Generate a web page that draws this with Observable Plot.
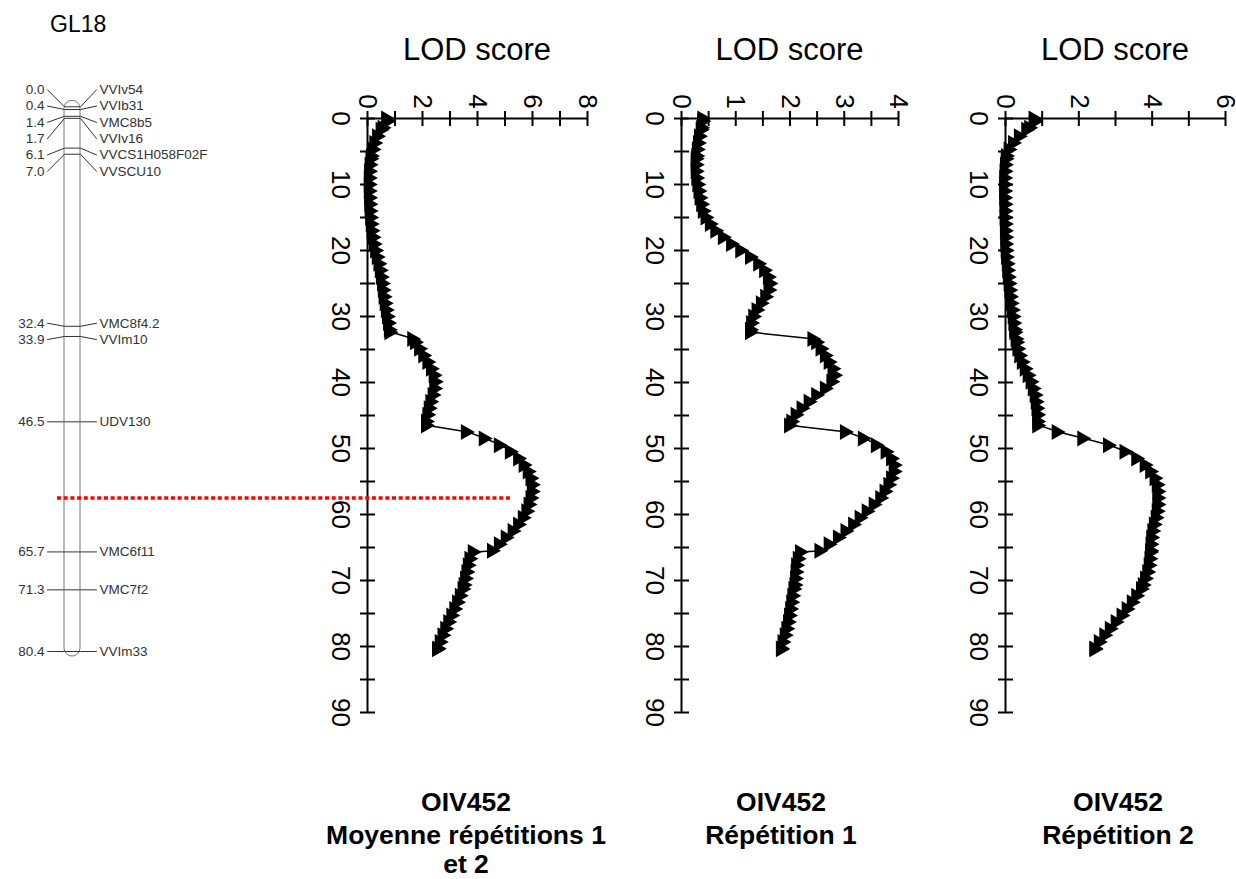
<!DOCTYPE html>
<html><head><meta charset="utf-8">
<script src="https://cdn.jsdelivr.net/npm/d3@7"></script>
<script src="https://cdn.jsdelivr.net/npm/@observablehq/plot@0.6"></script>
<style>
body{margin:0;background:#fff;}
#fig{position:relative;width:1236px;height:879px;overflow:hidden;font-family:"Liberation Sans",Arial,sans-serif;color:#000;}
.title{position:absolute;font-size:31px;line-height:34px;text-align:center;width:260px;white-space:nowrap;}
.cap{position:absolute;font-weight:bold;font-size:26.5px;line-height:22px;text-align:center;width:360px;white-space:nowrap;}
.gl{position:absolute;font-size:23px;line-height:24px;}
</style></head><body><div id="fig"></div>
<script>
// ---- data ----
const positions = [0.0,0.4,1.4,1.7,2.7,3.7,4.7,5.7,6.1,7.0,
  8,9,10,11,12,13,14,15,16,17,18,19,20,21,22,23,24,25,26,27,28,29,30,31,32,
  32.4,33.4,33.9,
  34.9,35.9,36.9,37.9,38.9,39.9,40.9,41.9,42.9,43.9,44.9,45.9,
  46.5,
  47.5,48.5,49.5,50.5,51.5,52.5,53.5,54.5,55.5,56.5,57.5,58.5,59.5,60.5,61.5,62.5,63.5,64.5,65.5,
  65.7,
  66.7,67.7,68.7,69.7,70.7,
  71.3,
  72.3,73.3,74.3,75.3,76.3,77.3,78.3,79.3,80.3,
  80.4];
const lodMean = [0.75,0.78,0.62,0.55,0.42,0.32,0.26,0.2,0.18,0.15,
  0.13,0.12,0.12,0.12,0.13,0.14,0.15,0.17,0.19,0.22,0.26,0.3,0.35,0.41,0.47,0.52,0.56,0.6,0.63,0.66,0.7,0.74,0.78,0.82,0.85,
  0.87,1.7,1.8,
  1.95,2.1,2.25,2.38,2.48,2.52,2.5,2.44,2.36,2.3,2.25,2.2,
  2.2,
  3.65,4.3,4.85,5.25,5.55,5.75,5.9,6.0,6.05,6.05,6.0,5.93,5.85,5.72,5.55,5.35,5.1,4.85,4.6,
  3.9,
  3.78,3.72,3.67,3.62,3.57,
  3.53,
  3.43,3.33,3.23,3.12,3.01,2.9,2.8,2.7,2.62,
  2.6];
const lodRep1 = [0.42,0.42,0.4,0.39,0.36,0.34,0.32,0.31,0.3,0.3,
  0.3,0.31,0.33,0.35,0.37,0.4,0.43,0.48,0.56,0.66,0.8,0.95,1.12,1.3,1.45,1.56,1.63,1.66,1.64,1.58,1.5,1.42,1.36,1.32,1.3,
  1.3,2.45,2.52,
  2.6,2.68,2.75,2.82,2.85,2.8,2.68,2.52,2.38,2.25,2.14,2.06,
  2.02,
  3.05,3.38,3.62,3.8,3.9,3.95,3.95,3.9,3.85,3.78,3.7,3.58,3.45,3.32,3.2,3.06,2.92,2.75,2.58,
  2.22,
  2.18,2.15,2.14,2.13,2.12,
  2.1,
  2.08,2.06,2.04,2.02,2.0,1.97,1.94,1.9,1.87,
  1.87];
const lodRep2 = [0.82,0.85,0.7,0.62,0.42,0.26,0.14,0.07,0.06,0.04,
  0.03,0.02,0.02,0.02,0.02,0.03,0.03,0.03,0.04,0.04,0.05,0.05,0.06,0.07,0.09,0.1,0.12,0.14,0.16,0.18,0.2,0.23,0.25,0.27,0.29,
  0.3,0.33,0.35,
  0.38,0.43,0.5,0.58,0.66,0.74,0.8,0.85,0.88,0.9,0.92,0.92,
  0.92,
  1.45,2.15,2.85,3.3,3.62,3.85,4.0,4.12,4.18,4.2,4.2,4.2,4.18,4.15,4.1,4.06,4.03,4.01,4.0,
  4.0,
  3.98,3.96,3.92,3.86,3.8,
  3.75,
  3.62,3.5,3.36,3.22,3.06,2.9,2.75,2.6,2.48,
  2.48];
const markerNames = ["VVIv54","VVIb31","VMC8b5","VVIv16","VVCS1H058F02F","VVSCU10","VMC8f4.2","VVIm10","UDV130","VMC6f11","VMC7f2","VVIm33"];
const markerPos = [0.0,0.4,1.4,1.7,6.1,7.0,32.4,33.9,46.5,65.7,71.3,80.4];
const posTicks = [0,5,10,15,20,25,30,35,40,45,50,55,60,65,70,75,80,85,90];
const posLabels = [0,10,20,30,40,50,60,70,80,90];
const lodTicks1 = [0,1,2,3,4,5,6,7,8], lodLabels1 = [0,2,4,6,8];
const lodTicks2 = [0,0.5,1,1.5,2,2.5,3,3.5,4], lodLabels2 = [0,1,2,3,4];
const lodTicks3 = [0,1,2,3,4,5,6], lodLabels3 = [0,2,4,6];
const qtlPosition = [57.5];
const groupName = "GL18";
const axisTitle = "LOD score";
const captions = [["OIV452","Moyenne répétitions 1","et 2"],["OIV452","Répétition 1"],["OIV452","Répétition 2"]];

// ---- layout ----
const FONT = "Liberation Sans, Arial, sans-serif";
const fig = document.getElementById("fig");
function place(node, left, top, w){
  const d = document.createElement("div");
  d.style.cssText = `position:absolute;left:${left}px;top:${top}px;width:${w}px;`;
  d.appendChild(node); fig.appendChild(d);
}
const triRight = {draw(ctx){ ctx.moveTo(-7,-8); ctx.lineTo(7,0); ctx.lineTo(-7,8); ctx.closePath(); }};
const hTick = {draw(ctx){ ctx.moveTo(-7.5,0); ctx.lineTo(7.5,0); }};
const vTick = {draw(ctx){ ctx.moveTo(0,-7.5); ctx.lineTo(0,7.5); }};

const Y0 = 118.3, YLEN = 594;
function panel(cfg){
  const mL = cfg.red ? 320 : 50, mR = 10, mT = 40, mB = 12;
  const data = positions.map((p,i)=>({pos:p, lod:cfg.lod[i]}));
  const marks = [
    Plot.ruleX([0], {stroke:"black", strokeWidth:2}),
    Plot.ruleY([0], {stroke:"black", strokeWidth:2}),
    Plot.dot(posTicks, {x:0, y:d=>d, symbol:hTick, stroke:"black", strokeWidth:2, fill:"none"}),
    Plot.dot(cfg.ticks, {x:d=>d, y:0, symbol:vTick, stroke:"black", strokeWidth:2, fill:"none"}),
    Plot.text(posLabels, {x:0, y:d=>d, text:d=>String(d), rotate:90, dx:-27, fontSize:26, fill:"black"}),
    Plot.text(cfg.labels, {x:d=>d, y:0, text:d=>String(d), rotate:90, dy:-17, fontSize:26, fill:"black"}),
    Plot.line(data, {x:"lod", y:"pos", stroke:"black", strokeWidth:1.5}),
    Plot.dot(data, {x:"lod", y:"pos", symbol:triRight, fill:"black", stroke:"none"})
  ];
  if (cfg.red) marks.push(Plot.ruleY(qtlPosition, {y:d=>d, stroke:"#f00", strokeWidth:3.5, strokeDasharray:"4 2.7", insetLeft:-310, insetRight:75}));
  const width = mL + cfg.w + mR, height = mT + YLEN + mB;
  const svg = Plot.plot({
    width, height, marginLeft:mL, marginRight:mR, marginTop:mT, marginBottom:mB,
    style:{background:"transparent", overflow:"visible", fontFamily:FONT},
    x:{domain:[0, cfg.xMax], axis:null},
    y:{domain:[0, 90], reverse:true, axis:null},
    marks
  });
  place(svg, cfg.x0 - mL, Y0 - mT, width);
  const t = document.createElement("div");
  t.className = "title"; t.textContent = axisTitle;
  t.style.left = (cfg.x0 + cfg.w/2 - 130) + "px"; t.style.top = "33px";
  fig.appendChild(t);
  const centers = [802, 835, 864];
  cfg.caption.forEach((line, i) => {
    const c = document.createElement("div");
    c.className = "cap"; c.textContent = line;
    c.style.left = (cfg.capX - 180) + "px"; c.style.top = (centers[i] - 11) + "px";
    fig.appendChild(c);
  });
}

// ---- linkage map ----
function spreadLabels(pos, gap){
  const layout = c => { const n = c.last - c.first + 1, mid = (c.lo + c.hi)/2; c.start = mid - (n-1)*gap/2; c.end = mid + (n-1)*gap/2; };
  let clusters = pos.map((p,i)=>{ const c = {first:i, last:i, lo:p, hi:p}; layout(c); return c; });
  let merged = true;
  while (merged){
    merged = false;
    for (let i = 1; i < clusters.length; i++){
      const a = clusters[i-1], b = clusters[i];
      if (b.start - a.end < gap - 1e-9){
        const c = {first:a.first, last:b.last, lo:a.lo, hi:b.hi}; layout(c);
        clusters.splice(i-1, 2, c); merged = true; break;
      }
    }
  }
  const out = [];
  clusters.forEach(c => { for (let i = c.first; i <= c.last; i++) out[i] = c.start + (i - c.first)*gap; });
  return out;
}
(function map(){
  const pxPerCM = 6.775, top = 106.3, W = 240, H = 700;
  const maxPos = d3.max(markerPos);
  const mB = H - top - maxPos*pxPerCM;
  const labelPos = spreadLabels(markerPos, 16.3/pxPerCM);
  const markers = markerNames.map((n,i)=>({name:n, pos:markerPos[i], label:labelPos[i]}));
  const L = {num:44, cl:47, bl:64, br:80, cr:96, name:99};
  const conn = markers.flatMap((m,i)=>[
    {k:i, x:L.cl, y:m.label},{k:i, x:L.bl, y:m.pos},{k:i, x:L.br, y:m.pos},{k:i, x:L.cr, y:m.label}]);
  const svg = Plot.plot({
    width:W, height:H, marginLeft:0, marginRight:0, marginTop:top, marginBottom:mB,
    style:{background:"transparent", overflow:"visible", fontFamily:FONT},
    x:{type:"identity", axis:null},
    y:{domain:[0, maxPos], reverse:true, axis:null},
    marks:[
      Plot.rect([0], {x1:L.bl, x2:L.br, y1:0, y2:maxPos, insetTop:-6, insetBottom:-5, rx:8, ry:8, fill:"none", stroke:"#777", strokeWidth:1}),
      Plot.line(conn, {x:"x", y:"y", z:"k", stroke:"#333", strokeWidth:1}),
      Plot.text(markers, {x:L.num, y:"label", text:d=>d.pos.toFixed(1), textAnchor:"end", fontSize:13.5, fill:"#333"}),
      Plot.text(markers, {x:L.name, y:"label", text:"name", textAnchor:"start", fontSize:13.5, fill:"#333"})
    ]
  });
  place(svg, 0, 0, W);
  const g = document.createElement("div");
  g.className = "gl"; g.textContent = groupName; g.style.left = "50px"; g.style.top = "12px";
  fig.appendChild(g);
})();

panel({lod:lodMean, xMax:8, ticks:lodTicks1, labels:lodLabels1, x0:367, w:220, capX:466, caption:captions[0], red:true});
panel({lod:lodRep1, xMax:4, ticks:lodTicks2, labels:lodLabels2, x0:681, w:217, capX:781, caption:captions[1]});
panel({lod:lodRep2, xMax:6, ticks:lodTicks3, labels:lodLabels3, x0:1005, w:220, capX:1118, caption:captions[2]});
</script></body></html>
